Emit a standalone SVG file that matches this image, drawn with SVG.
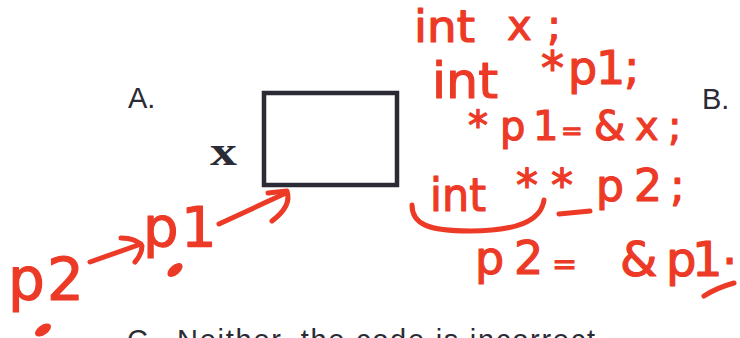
<svg xmlns="http://www.w3.org/2000/svg" width="740" height="338" viewBox="0 0 740 338">
  <style>
    .opt { font-family: "Liberation Sans", Arial, sans-serif; font-size: 29px; fill: #2b2b35; }
    .var { font-family: "Liberation Serif", "Times New Roman", serif; font-weight: bold; font-size: 40px; fill: #2b2b35; }
    .ink { font-family: "DejaVu Sans", "Noto Sans", sans-serif; fill: #ec3a27; stroke: #ec3a27; stroke-width: 1.2; stroke-linejoin: round; }
    .pen { fill: none; stroke: #ec3a27; stroke-width: 5; stroke-linecap: round; stroke-linejoin: round; }
    .blob { fill: #ec3a27; }
  </style>

  <rect width="740" height="338" fill="#ffffff"/>

  <!-- answer options -->
  <g id="option-a">
    <text class="opt" x="128" y="107.5">A.</text>
  </g>
  <g id="option-b">
    <text class="opt" x="702" y="108.5">B.</text>
  </g>
  <g id="option-c">
    <text class="opt" x="127" y="350">C.</text>
    <text class="opt" x="177" y="350" textLength="418" lengthAdjust="spacing">Neither, the code is incorrect</text>
  </g>

  <!-- variable x and its memory cell -->
  <g id="var-x">
    <text class="var" x="210" y="165" textLength="27" lengthAdjust="spacingAndGlyphs">x</text>
    <rect x="264" y="93" width="133" height="92" fill="none" stroke="#2b2b35" stroke-width="4.5"/>
  </g>

  <!-- handwritten code, right side -->
  <g id="code-line-1">
    <text class="ink" x="414" y="42" font-size="44" textLength="61" lengthAdjust="spacingAndGlyphs">int</text>
    <text class="ink" x="507 547" y="40" font-size="42">x;</text>
  </g>
  <g id="code-line-2">
    <text class="ink" x="432" y="98" font-size="50" textLength="66" lengthAdjust="spacingAndGlyphs">int</text>
    <text class="ink" x="541 568 596 624" y="84" font-size="46">*p1;</text>
  </g>
  <g id="code-line-3">
    <text class="ink" y="140" font-size="40"><tspan x="468 500 533">*p1</tspan><tspan x="561" font-size="26">=</tspan><tspan x="584 594 635 668">&#160;&amp;x;</tspan></text>
  </g>
  <g id="code-line-4">
    <text class="ink" x="430" y="211" font-size="46" textLength="56" lengthAdjust="spacingAndGlyphs">int</text>
    <text class="ink" x="516 551 596 634 670" y="201" font-size="44">**p2;</text>
  </g>
  <g id="code-line-5">
    <text class="ink" y="274" font-size="46"><tspan x="475 514">p2</tspan><tspan x="552" font-size="30">=</tspan></text>
    <text class="ink" y="276" font-size="48"><tspan x="620 666 692">&amp;p1</tspan><tspan x="722" dy="-12">.</tspan></text>
  </g>

  <!-- handwritten pointer chain, left side -->
  <g id="chain-p2">
    <text class="ink" x="8 47" y="300" font-size="58">p2</text>
    <ellipse class="blob" cx="43" cy="330" rx="9" ry="5" transform="rotate(-35 43 330)"/>
  </g>
  <g id="chain-p1">
    <text class="ink" x="143 181" y="246" font-size="56">p1</text>
    <ellipse class="blob" cx="175" cy="270" rx="9" ry="5" transform="rotate(-40 175 270)"/>
  </g>

  <!-- pen strokes: arrows, brace and marks -->
  <g id="connectors">
    <path class="pen" d="M90,262 L141,244"/>
    <path class="pen" d="M121,238 Q136,238 142,246 Q142,254 135,262"/>
    <path class="pen" d="M219,224 L286,193"/>
    <path class="pen" d="M268,193 L287,191 Q292,206 272,221"/>
    <path class="pen" d="M412,205 C412,224 428,231 470,231 C515,231 541,222 544,200"/>
    <path class="pen" d="M559,214 L590,211" stroke-width="7"/>
    <path class="pen" d="M704,296 Q716,288 734,283"/>
  </g>
</svg>
